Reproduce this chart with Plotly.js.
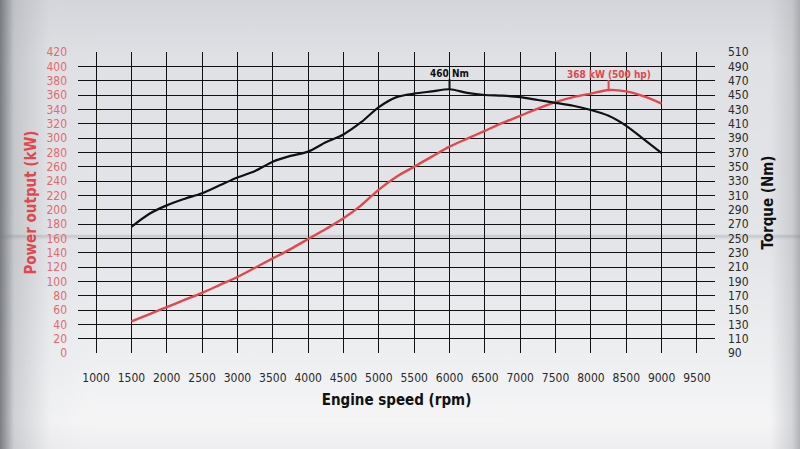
<!DOCTYPE html>
<html>
<head>
<meta charset="utf-8">
<script src="https://cdn.plot.ly/plotly-3.0.1.min.js"></script>
<style>
  html, body { margin: 0; padding: 0; }
  #chart {
    width: 800px; height: 449px;
    background:
      linear-gradient(to bottom, rgba(0,0,0,0) 234px, rgba(120,122,128,0.28) 236px, rgba(120,122,128,0.12) 238px, rgba(0,0,0,0) 240px),
      linear-gradient(to right, rgba(110,113,118,0.9) 0px, rgba(170,172,177,0.5) 14px, rgba(215,217,221,0.15) 50px, rgba(0,0,0,0) 90px, rgba(0,0,0,0) 770px, rgba(180,182,186,0.5) 792px, rgba(150,152,156,0.7) 800px),
      linear-gradient(to bottom, #d3d5da 0px, #dfe1e5 60px, #e3e5e8 250px, #eeeff1 360px, #f5f5f6 420px, #eeeef0 449px);
  }
</style>
</head>
<body>
<div id="chart"></div>
<script>
// ── Data ──────────────────────────────────────────────────────────────────────
const rpm = [1500, 1750, 2000, 2250, 2500, 2750, 3000, 3250, 3500, 3750, 4000,
             4250, 4500, 4750, 5000, 5250, 5500, 5750, 6000, 6250, 6500, 6750,
             7000, 7250, 7500, 7750, 8000, 8250, 8500, 8750, 9000];

const powerKw = [44, 54, 64, 74, 84, 95, 106, 119, 132, 145, 159,
                 173, 188, 206, 228, 246, 260, 274, 288, 299, 310, 321,
                 331, 341, 350, 357, 362, 367, 365, 358, 348];

const torqueNm = [266, 284, 296, 305, 313, 324, 335, 344, 357, 365, 371,
                  384, 395, 412, 433, 447, 452, 455, 458, 453, 450, 449,
                  447, 443, 439, 435, 429, 421, 407, 388, 369];

const xTicks = [1000, 1500, 2000, 2500, 3000, 3500, 4000, 4500, 5000,
                5500, 6000, 6500, 7000, 7500, 8000, 8500, 9000, 9500];

const peakTorque = { rpm: 6000, value: 458, label: '460 Nm' };
const peakPower  = { rpm: 8250, value: 367, label: '368 kW (500 hp)' };

// ── Styling ───────────────────────────────────────────────────────────────────
const FONT   = "'DejaVu Sans Condensed', 'Liberation Sans', Arial, sans-serif";
const RED    = '#e0474f';
const RED_TX = '#e26a6f';
const INK    = '#111111';
const TICK_PX = 10;   // length of the little marker above each peak

const traces = [
  {
    type: 'scatter', mode: 'lines', x: rpm, y: powerKw, yaxis: 'y',
    line: { color: RED, width: 2.4, shape: 'spline', smoothing: 0.8 },
    showlegend: false, hoverinfo: 'skip',
  },
  {
    type: 'scatter', mode: 'lines', x: rpm, y: torqueNm, yaxis: 'y2',
    line: { color: INK, width: 2.2, shape: 'spline', smoothing: 0.8 },
    showlegend: false, hoverinfo: 'skip',
  },
];

// Peak marker: short vertical pixel-sized stroke anchored at the peak value,
// with the label sitting right on top of it.
function peakMarker(pk, yref, color) {
  return {
    type: 'line', xref: 'x', yref,
    x0: pk.rpm, x1: pk.rpm,
    ysizemode: 'pixel', yanchor: pk.value, y0: 0, y1: TICK_PX,
    line: { color, width: 2 },
  };
}
function peakLabel(pk, yref, color) {
  return {
    x: pk.rpm, y: pk.value, xref: 'x', yref,
    text: '<b>' + pk.label + '</b>',
    font: { family: FONT, size: 10, color },
    showarrow: false, yanchor: 'bottom', yshift: TICK_PX - 2,
  };
}

const layout = {
  width: 800, height: 449,
  margin: { l: 78, r: 85, t: 52, b: 96 },
  paper_bgcolor: 'rgba(0,0,0,0)',
  plot_bgcolor:  'rgba(0,0,0,0)',
  font: { family: FONT, size: 12, color: INK },
  xaxis: {
    range: [745, 9755],
    tickvals: xTicks,
    ticktext: xTicks.map(String),
    showgrid: true, gridcolor: '#111111', gridwidth: 1,
    zeroline: false, showline: false,
    ticks: '', ticklabelstandoff: 16,
    tickfont: { family: FONT, size: 12, color: '#2a2a2a' },
    title: { text: '<b>Engine speed (rpm)</b>', font: { family: FONT, size: 15, color: INK }, standoff: 10 },
  },
  yaxis: {
    range: [0, 420], dtick: 20, tick0: 0,
    showgrid: true, gridcolor: '#111111', gridwidth: 1,
    zeroline: false, showline: false,
    ticks: '', ticklabelstandoff: 10,
    tickfont: { family: FONT, size: 12, color: RED_TX },
    title: { text: '<b>Power output (kW)</b>', font: { family: FONT, size: 15, color: RED }, standoff: 6 },
  },
  yaxis2: {
    overlaying: 'y', side: 'right',
    range: [90, 510], dtick: 20, tick0: 90,
    showgrid: false, zeroline: false, showline: false,
    ticks: '', ticklabelstandoff: 12,
    tickfont: { family: FONT, size: 12, color: '#2a2a2a' },
    title: { text: '<b>Torque (Nm)</b>', font: { family: FONT, size: 15, color: INK }, standoff: 14 },
  },
  shapes: [
    peakMarker(peakTorque, 'y2', INK),
    peakMarker(peakPower,  'y',  RED),
  ],
  annotations: [
    peakLabel(peakTorque, 'y2', INK),
    peakLabel(peakPower,  'y',  RED),
  ],
};

Plotly.newPlot('chart', traces, layout, { staticPlot: true, displayModeBar: false });
</script>
</body>
</html>
